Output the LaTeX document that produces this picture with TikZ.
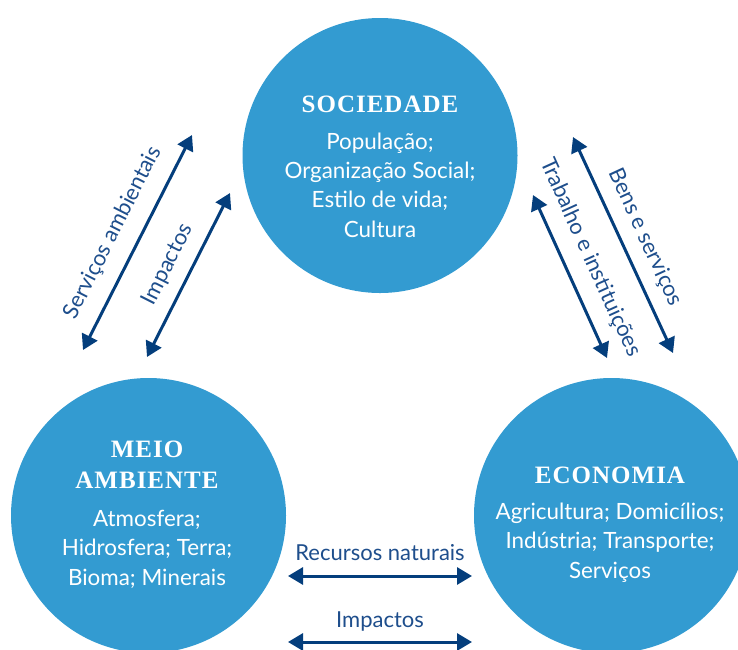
\documentclass[tikz,border=0pt]{standalone}
\usepackage{fontspec}
\setmainfont{Lato}
\newfontfamily\headfont[LetterSpace=4]{Liberation Serif}
\usetikzlibrary{arrows.meta,calc}
\definecolor{circblue}{RGB}{51,155,209}
\definecolor{arrowblue}{RGB}{4,62,124}
\definecolor{lblblue}{RGB}{30,78,140}
\begin{document}
\begin{tikzpicture}[x=1pt,y=-1pt,
  bigcirc/.style={circle,fill=circblue,draw=none,minimum size=275pt,inner sep=0pt},
  headtxt/.style={font=\headfont\bfseries\fontsize{25}{31}\selectfont,text=white,align=center,inner sep=0pt,anchor=base},
  bodytxt/.style={font=\fontsize{22.4}{29.2}\selectfont,text=white,align=center,inner sep=0pt,anchor=base},
  lbl/.style={font=\fontsize{22}{26}\selectfont,text=lblblue,inner sep=0pt,anchor=base},
  dblarrow/.style={draw=arrowblue,line width=3pt,{Triangle[length=15pt,width=17pt]}-{Triangle[length=15pt,width=17pt]}}
]
\useasboundingbox (0,0) rectangle (738,649);
\clip (0,0) rectangle (738,649);
% circles
\node[bigcirc] (soc) at (380,155.5) {};
\node[bigcirc] (meio) at (148.5,515.5) {};
\node[bigcirc] (eco) at (611.5,515.5) {};
% texts (anchor base = baseline of the last line)
\node[headtxt] (socH) at (380,112) {SOCIEDADE};
\node[bodytxt] (socB) at (380,237) {População;\\Organização Social;\\Estilo de vida;\\Cultura};
\node[headtxt] (meioH) at (147,488) {MEIO\\AMBIENTE};
\node[bodytxt] (meioB) at (147,585) {Atmosfera;\\Hidrosfera; Terra;\\Bioma; Minerais};
\node[headtxt] (ecoH) at (610,483) {ECONOMIA};
\node[bodytxt] (ecoB) at (610,578) {Agricultura; Domicílios;\\Indústria; Transporte;\\Serviços};
% arrow end points
\coordinate (sa1) at (83,350);  \coordinate (sa2) at (192,135);
\coordinate (ia1) at (147,357); \coordinate (ia2) at (230,193);
\coordinate (bs1) at (573,137); \coordinate (bs2) at (673,353);
\coordinate (ti1) at (533,195); \coordinate (ti2) at (607,358);
\coordinate (rn1) at (288,576); \coordinate (rn2) at (472,576);
\coordinate (im1) at (288,642); \coordinate (im2) at (472,642);
% arrows
\draw[dblarrow] (sa1) -- (sa2);
\draw[dblarrow] (ia1) -- (ia2);
\draw[dblarrow] (bs1) -- (bs2);
\draw[dblarrow] (ti1) -- (ti2);
\draw[dblarrow] (rn1) -- (rn2);
\draw[dblarrow] (im1) -- (im2);
% labels
\node[lbl,rotate=63.1] (saL) at ($($(sa1)!0.49!(sa2)$)!20pt!90:(sa2)$) {Serviços ambientais};
\node[lbl,rotate=63.2] (iaL) at ($($(ia1)!0.5!(ia2)$)!17pt!90:(ia2)$) {Impactos};
\node[lbl,rotate=-65.2] (bsL) at ($($(bs1)!0.51!(bs2)$)!17pt!90:(bs2)$) {Bens e serviços};
\node[lbl,rotate=-65.6] (tiL) at ($($(ti1)!0.45!(ti2)$)!20pt!90:(ti2)$) {Trabalho e instituições};
\node[lbl] (rnL) at (380,560) {Recursos naturais};
\node[lbl] (imL) at (380,627) {Impactos};
\end{tikzpicture}
\end{document}
